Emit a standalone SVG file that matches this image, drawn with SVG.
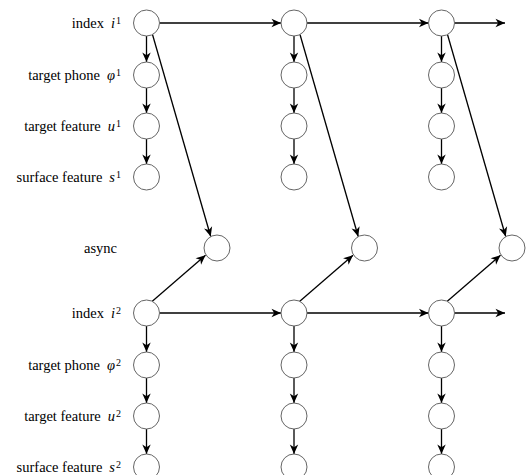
<svg xmlns="http://www.w3.org/2000/svg" width="530" height="475" viewBox="0 0 530 475">
  <style>
    .node { fill: #ffffff; stroke: #666666; stroke-width: 1; }
    .edge { fill: none; stroke: #000000; stroke-width: 1.3; marker-end: url(#arrow); }
    .label { font-family: "Liberation Serif", "Times New Roman", serif; font-size: 14.5px; fill: #000000; text-anchor: end; }
    .var { font-style: italic; }
    .sup { font-size: 10px; }
  </style>
  <defs>
    <marker id="arrow" markerUnits="userSpaceOnUse" markerWidth="12" markerHeight="12" viewBox="-10 -6 12 12" refX="0" refY="0" orient="auto">
      <path d="M0,0 L-9.5,-4.2 L-6.8,0 L-9.5,4.2 z" fill="#000000"/>
    </marker>
  </defs>

  <!-- row labels -->
  <g id="labels">
    <text class="label" x="121" y="28">index<tspan class="var" dx="7">i</tspan><tspan class="sup" dx="1" dy="-4">1</tspan></text>
    <text class="label" x="121" y="80">target phone<tspan class="var" dx="7">φ</tspan><tspan class="sup" dx="1" dy="-4">1</tspan></text>
    <text class="label" x="121" y="131">target feature<tspan class="var" dx="7">u</tspan><tspan class="sup" dx="1" dy="-4">1</tspan></text>
    <text class="label" x="121" y="182">surface feature<tspan class="var" dx="7">s</tspan><tspan class="sup" dx="1" dy="-4">1</tspan></text>
    <text class="label" x="117" y="253">async</text>
    <text class="label" x="121" y="318">index<tspan class="var" dx="7">i</tspan><tspan class="sup" dx="1" dy="-4">2</tspan></text>
    <text class="label" x="121" y="370">target phone<tspan class="var" dx="7">φ</tspan><tspan class="sup" dx="1" dy="-4">2</tspan></text>
    <text class="label" x="121" y="421">target feature<tspan class="var" dx="7">u</tspan><tspan class="sup" dx="1" dy="-4">2</tspan></text>
    <text class="label" x="121" y="472">surface feature<tspan class="var" dx="7">s</tspan><tspan class="sup" dx="1" dy="-4">2</tspan></text>
  </g>

  <!-- connectors -->
  <g id="connectors">
    <!-- column 1 -->
    <line class="edge" x1="146.5" y1="36" x2="146.5" y2="62"/>
    <line class="edge" x1="146.5" y1="88" x2="146.5" y2="113"/>
    <line class="edge" x1="146.5" y1="139" x2="146.5" y2="164"/>
    <line class="edge" x1="146.5" y1="326" x2="146.5" y2="352"/>
    <line class="edge" x1="146.5" y1="378" x2="146.5" y2="403"/>
    <line class="edge" x1="146.5" y1="429" x2="146.5" y2="454"/>
    <line class="edge" x1="159.5" y1="23" x2="281" y2="23"/>
    <line class="edge" x1="159.5" y1="313" x2="281" y2="313"/>
    <line class="edge" x1="152.5" y1="34.5" x2="210.7" y2="236.5"/>
    <line class="edge" x1="152" y1="301.5" x2="205.5" y2="255.3"/>
    <!-- column 2 -->
    <line class="edge" x1="294" y1="36" x2="294" y2="62"/>
    <line class="edge" x1="294" y1="88" x2="294" y2="113"/>
    <line class="edge" x1="294" y1="139" x2="294" y2="164"/>
    <line class="edge" x1="294" y1="326" x2="294" y2="352"/>
    <line class="edge" x1="294" y1="378" x2="294" y2="403"/>
    <line class="edge" x1="294" y1="429" x2="294" y2="454"/>
    <line class="edge" x1="307" y1="23" x2="428.5" y2="23"/>
    <line class="edge" x1="307" y1="313" x2="428.5" y2="313"/>
    <line class="edge" x1="300" y1="34.5" x2="358.2" y2="236.5"/>
    <line class="edge" x1="299.5" y1="301.5" x2="353" y2="255.3"/>
    <!-- column 3 -->
    <line class="edge" x1="441.5" y1="36" x2="441.5" y2="62"/>
    <line class="edge" x1="441.5" y1="88" x2="441.5" y2="113"/>
    <line class="edge" x1="441.5" y1="139" x2="441.5" y2="164"/>
    <line class="edge" x1="441.5" y1="326" x2="441.5" y2="352"/>
    <line class="edge" x1="441.5" y1="378" x2="441.5" y2="403"/>
    <line class="edge" x1="441.5" y1="429" x2="441.5" y2="454"/>
    <line class="edge" x1="454.5" y1="23" x2="505" y2="23"/>
    <line class="edge" x1="454.5" y1="313" x2="505" y2="313"/>
    <line class="edge" x1="447.5" y1="34.5" x2="505.7" y2="236.5"/>
    <line class="edge" x1="447" y1="301.5" x2="500.5" y2="255.3"/>
  </g>

  <!-- nodes, column 1 -->
  <g id="i1-1"><circle class="node" cx="146.5" cy="23" r="13"/></g>
  <g id="phi1-1"><circle class="node" cx="146.5" cy="75" r="13"/></g>
  <g id="u1-1"><circle class="node" cx="146.5" cy="126" r="13"/></g>
  <g id="s1-1"><circle class="node" cx="146.5" cy="177" r="13"/></g>
  <g id="async-1"><circle class="node" cx="217" cy="248" r="13"/></g>
  <g id="i2-1"><circle class="node" cx="146.5" cy="313" r="13"/></g>
  <g id="phi2-1"><circle class="node" cx="146.5" cy="365" r="13"/></g>
  <g id="u2-1"><circle class="node" cx="146.5" cy="416" r="13"/></g>
  <g id="s2-1"><circle class="node" cx="146.5" cy="467" r="13"/></g>

  <!-- nodes, column 2 -->
  <g id="i1-2"><circle class="node" cx="294" cy="23" r="13"/></g>
  <g id="phi1-2"><circle class="node" cx="294" cy="75" r="13"/></g>
  <g id="u1-2"><circle class="node" cx="294" cy="126" r="13"/></g>
  <g id="s1-2"><circle class="node" cx="294" cy="177" r="13"/></g>
  <g id="async-2"><circle class="node" cx="364.5" cy="248" r="13"/></g>
  <g id="i2-2"><circle class="node" cx="294" cy="313" r="13"/></g>
  <g id="phi2-2"><circle class="node" cx="294" cy="365" r="13"/></g>
  <g id="u2-2"><circle class="node" cx="294" cy="416" r="13"/></g>
  <g id="s2-2"><circle class="node" cx="294" cy="467" r="13"/></g>

  <!-- nodes, column 3 -->
  <g id="i1-3"><circle class="node" cx="441.5" cy="23" r="13"/></g>
  <g id="phi1-3"><circle class="node" cx="441.5" cy="75" r="13"/></g>
  <g id="u1-3"><circle class="node" cx="441.5" cy="126" r="13"/></g>
  <g id="s1-3"><circle class="node" cx="441.5" cy="177" r="13"/></g>
  <g id="async-3"><circle class="node" cx="512" cy="248" r="13"/></g>
  <g id="i2-3"><circle class="node" cx="441.5" cy="313" r="13"/></g>
  <g id="phi2-3"><circle class="node" cx="441.5" cy="365" r="13"/></g>
  <g id="u2-3"><circle class="node" cx="441.5" cy="416" r="13"/></g>
  <g id="s2-3"><circle class="node" cx="441.5" cy="467" r="13"/></g>
</svg>
